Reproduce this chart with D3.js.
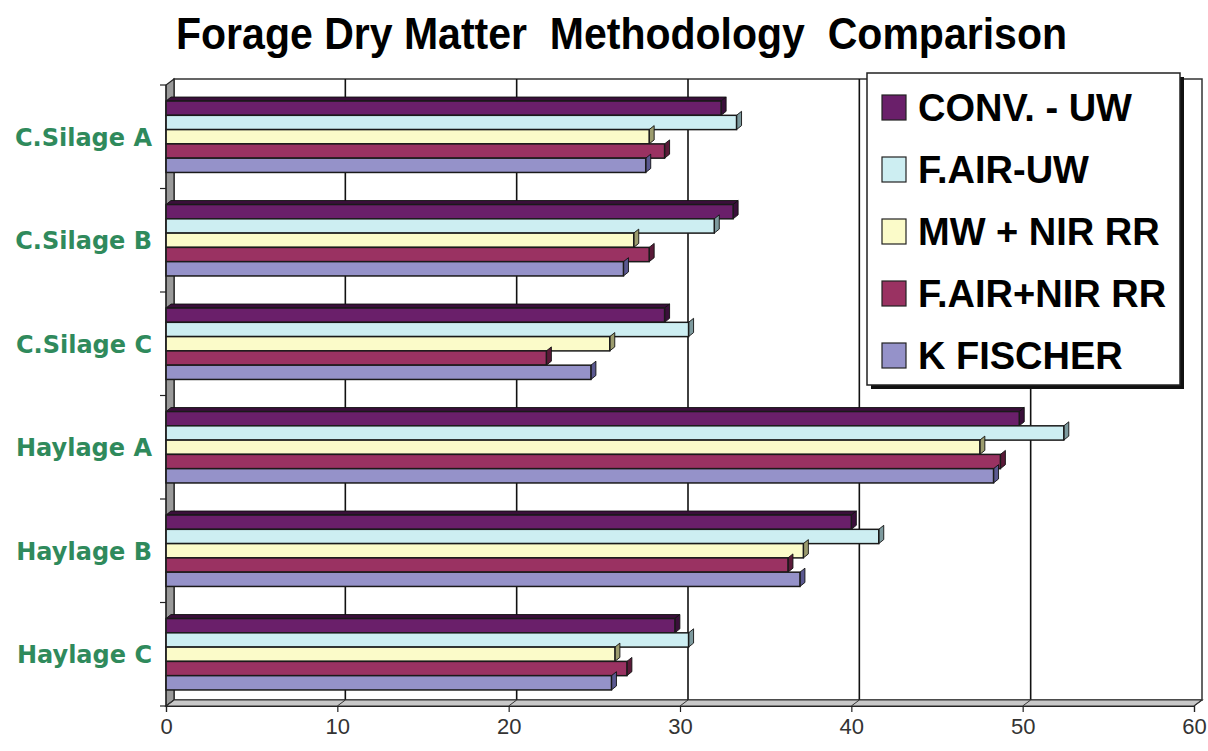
<!DOCTYPE html>
<html><head><meta charset="utf-8">
<script src="https://cdn.jsdelivr.net/npm/d3@7"></script>
<style>html,body{margin:0;padding:0;background:#fff;}svg{display:block;}</style>
</head><body>
<svg id="chart" width="1208" height="751"></svg>
<script>
const categories = ["C.Silage A","C.Silage B","C.Silage C","Haylage A","Haylage B","Haylage C"];
const seriesNames = ["CONV. - UW","F.AIR-UW","MW + NIR RR","F.AIR+NIR RR","K FISCHER"];
const convUW    = [32.4, 33.1, 29.1, 49.8, 40.0, 29.7];
const fairUW    = [33.3, 32.0, 30.5, 52.4, 41.6, 30.5];
const mwNir     = [28.2, 27.3, 25.9, 47.5, 37.2, 26.2];
const fairNir   = [29.1, 28.2, 22.2, 48.7, 36.3, 26.9];
const kFischer  = [28.0, 26.7, 24.8, 48.3, 37.0, 26.0];
const xTicks = [0,10,20,30,40,50,60];
const titleText = "Forage Dry Matter  Methodology  Comparison";
const colors = ["#6a1f6a","#cdeef2","#fbfbc9","#9a3262","#9592c9"];
const sideColors = ["#3a0f3a","#7d9a9e","#9c9c6e","#5a1a38","#5a5890"];

const seriesValues = [convUW, fairUW, mwNir, fairNir, kFischer];

const svg = d3.select("#chart");
const x0 = 166, x1 = 1194, yTop = 85, yBot = 706;
const dx = 8, dy = -6;
const x = d3.scaleLinear().domain([0,60]).range([x0,x1]);
const y = d3.scaleBand().domain(categories).range([yTop,yBot]).paddingInner(0.31).paddingOuter(0.155);
const yStep = (yBot - yTop) / categories.length;
const ySub = d3.scaleBand().domain(seriesNames).range([0, y.bandwidth()]);

// Title
svg.append("text").attr("x",176).attr("y",49)
  .attr("textLength",891).attr("lengthAdjust","spacingAndGlyphs")
  .style("white-space","pre")
  .style("font-family","'Liberation Sans', Arial, sans-serif").style("font-weight","bold")
  .style("font-size","45px").attr("fill","#000").text(titleText);

// Back wall
svg.append("rect").attr("x",x0+dx).attr("y",yTop+dy).attr("width",x1-x0).attr("height",yBot-yTop)
  .attr("fill","#fff").attr("stroke","#333").attr("stroke-width",1.5);
// Gridlines on back wall
svg.append("g").selectAll("line").data(xTicks.slice(1,-1)).join("line")
  .attr("x1",d=>x(d)+dx).attr("x2",d=>x(d)+dx).attr("y1",yTop+dy).attr("y2",yBot+dy)
  .attr("stroke","#111").attr("stroke-width",1.6);
// Left wall
svg.append("path").attr("d",`M${x0},${yBot}L${x0+dx},${yBot+dy}L${x0+dx},${yTop+dy}L${x0},${yTop}Z`)
  .attr("fill","#9a9a9a").attr("stroke","#222").attr("stroke-width",1.2);
// Floor
svg.append("path").attr("d",`M${x0},${yBot}L${x1},${yBot}L${x1+dx},${yBot+dy}L${x0+dx},${yBot+dy}Z`)
  .attr("fill","#c8c8c8").attr("stroke","#333").attr("stroke-width",1.2);
svg.append("g").selectAll("line").data(xTicks).join("line")
  .attr("x1",d=>x(d)+dx).attr("x2",d=>x(d)).attr("y1",yBot+dy).attr("y2",yBot)
  .attr("stroke","#333").attr("stroke-width",1);

// Bars
const bd = 5, bdy = -4;
const gBars = svg.append("g");
categories.forEach((cat, ci) => {
  seriesNames.forEach((s, si) => {
    const v = seriesValues[si][ci];
    const yy = y(cat) + ySub(s);
    const h = ySub.bandwidth();
    const xe = x(v), xs = x(0);
    if (si === 0) {
      gBars.append("path").attr("d",`M${xs},${yy}L${xs+bd},${yy+bdy}L${xe+bd},${yy+bdy}L${xe},${yy}Z`)
        .attr("fill",sideColors[si]).attr("stroke","#111").attr("stroke-width",0.9);
    }
    gBars.append("path").attr("d",`M${xe},${yy}L${xe+bd},${yy+bdy}L${xe+bd},${yy+h+bdy}L${xe},${yy+h}Z`)
      .attr("fill",sideColors[si]).attr("stroke","#111").attr("stroke-width",0.9);
    gBars.append("rect").attr("x",xs).attr("y",yy).attr("width",xe-xs).attr("height",h)
      .attr("fill",colors[si]).attr("stroke","#1a1a1a").attr("stroke-width",1.5);
  });
});

// Y axis ticks (category boundaries)
const yTickPos = d3.range(categories.length+1).map(i => yTop + i*yStep);
svg.append("g").selectAll("line").data(yTickPos).join("line")
  .attr("x1",x0-6).attr("x2",x0).attr("y1",d=>d).attr("y2",d=>d)
  .attr("stroke","#222").attr("stroke-width",1.2);
svg.append("line").attr("x1",x0).attr("x2",x0).attr("y1",yTop).attr("y2",yBot).attr("stroke","#222").attr("stroke-width",1.2);

// Category labels
svg.append("g").selectAll("text").data(categories).join("text")
  .attr("x",152).attr("y",d=>y(d)+y.bandwidth()/2+9)
  .attr("text-anchor","end")
  .style("font-family","'DejaVu Sans', sans-serif").style("font-weight","bold").style("font-size","24px")
  .attr("fill","#2f8a5c").text(d=>d);

// X axis
const xAxis = d3.axisBottom(x).tickValues(xTicks).tickSize(6).tickFormat(d3.format("d"));
const gx = svg.append("g").attr("transform",`translate(0,${yBot})`).call(xAxis);
gx.select(".domain").attr("stroke","#222").attr("stroke-width",1.2);
gx.selectAll(".tick line").attr("stroke","#222").attr("stroke-width",1.2);
gx.selectAll(".tick text").attr("dy","0").attr("y",28)
  .style("font-family","'Liberation Sans', Arial, sans-serif").style("font-size","22px").attr("fill","#333");

// Legend
const lg = svg.append("g");
const lx = 867, ly = 73, lw = 313, lh = 312;
lg.append("rect").attr("x",lx+4).attr("y",ly+4).attr("width",lw).attr("height",lh).attr("fill","#111");
lg.append("rect").attr("x",lx).attr("y",ly).attr("width",lw).attr("height",lh).attr("fill","#fff").attr("stroke","#222").attr("stroke-width",1.5);
const li = lg.selectAll("g.item").data(seriesNames).join("g").attr("class","item")
  .attr("transform",(d,i)=>`translate(${lx+15},${ly+22+i*62})`);
li.append("rect").attr("width",24).attr("height",25).attr("fill",(d,i)=>colors[i]).attr("stroke","#222").attr("stroke-width",1.2);
li.append("text").attr("x",36).attr("y",26)
  .style("font-family","'Liberation Sans', Arial, sans-serif").style("font-weight","bold").style("font-size","38px")
  .attr("fill","#000").text(d=>d);
</script>
</body></html>
